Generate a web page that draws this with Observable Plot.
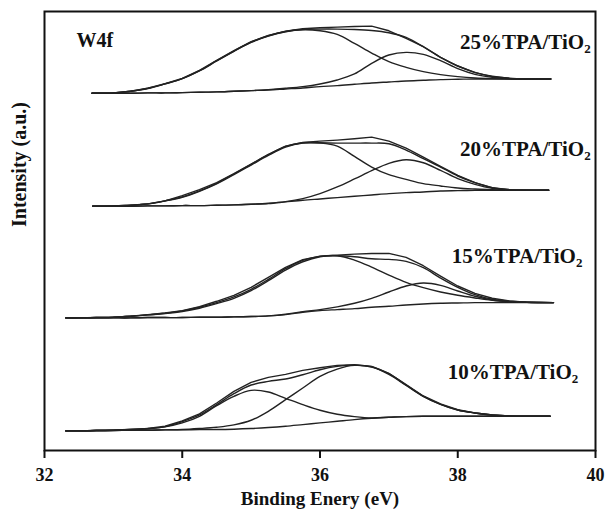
<!DOCTYPE html>
<html>
<head>
<meta charset="utf-8">
<script src="https://cdn.jsdelivr.net/npm/d3@7"></script>
<script src="https://cdn.jsdelivr.net/npm/@observablehq/plot@0.6"></script>
<style>
  html, body { margin: 0; padding: 0; background: #fff; }
  #chart svg { display: block; }
</style>
</head>
<body>
<div id="chart"></div>
<script>
// Binding energy grids (eV) for each sample
const e25 = [32.69,33.0,33.25,33.5,33.75,34.0,34.25,34.5,34.75,35.0,35.25,35.5,35.75,36.0,36.25,36.5,36.75,37.0,37.25,37.5,37.75,38.0,38.25,38.5,38.75,39.0,39.35];
const e20 = [32.70,33.0,33.25,33.5,33.75,34.0,34.25,34.5,34.75,35.0,35.25,35.5,35.75,36.0,36.25,36.5,36.75,37.0,37.25,37.5,37.75,38.0,38.25,38.5,38.75,39.0,39.32];
const e15 = [32.31,32.5,32.75,33.0,33.25,33.5,33.75,34.0,34.25,34.5,34.75,35.0,35.25,35.5,35.75,36.0,36.25,36.5,36.75,37.0,37.25,37.5,37.75,38.0,38.25,38.5,38.75,39.0,39.39];
const e10 = [32.31,32.5,32.75,33.0,33.25,33.5,33.75,34.0,34.25,34.5,34.75,35.0,35.25,35.5,35.75,36.0,36.25,36.5,36.75,37.0,37.25,37.5,37.75,38.0,38.25,38.5,38.75,39.0,39.34];

// Intensities (a.u., stacked as in the figure)
// 25%TPA/TiO2
const base25 = [1075,1075,1075,1076,1076,1077,1078,1079,1081,1083,1085,1088,1091,1095,1098,1102,1106,1109,1112,1114,1116,1117,1118,1118,1118,1118,1118];
const pk1_25 = [1075,1076,1081,1089,1103,1119,1142,1172,1201,1228,1247,1260,1266,1263,1252,1225,1196,1170,1153,1140,1131,1125,1121,1119,1118,1118,1118];
const pk2_25 = [1075,1075,1075,1076,1076,1077,1078,1079,1081,1083,1086,1090,1095,1103,1115,1133,1165,1190,1198,1192,1173,1149,1132,1123,1119,1118,1118];
const fit25  = [1075,1076,1081,1090,1103,1119,1143,1173,1202,1229,1248,1261,1267,1268,1268,1267,1264,1257,1243,1215,1183,1157,1138,1126,1120,1118,1118];
const raw25  = [1075,1076,1081,1090,1104,1120,1144,1174,1203,1230,1249,1262,1269,1272,1274,1276,1277,1263,1240,1215,1183,1157,1137,1125,1120,1119,1118];
// 20%TPA/TiO2
const base20 = [735,735,735,736,736,737,737,738,739,741,743,748,753,757,761,765,769,773,776,778,781,782,783,783,783,783,783];
const pk1_20 = [735,736,738,742,751,762,780,802,830,859,888,913,925,925,916,885,853,830,816,803,796,790,787,785,783,783,783];
const pk2_20 = [735,735,735,736,736,737,737,738,739,741,744,749,758,773,793,817,842,864,875,866,843,818,801,789,784,783,783];
const fit20  = [735,736,738,742,751,763,781,804,832,861,890,915,926,926,925,925,925,923,904,878,853,826,806,791,785,783,783];
const raw20  = [735,736,738,742,751,767,785,806,833,862,891,916,927,931,934,938,943,931,910,883,855,828,806,791,785,783,783];
// 15%TPA/TiO2
const base15 = [399,399,399,399,399,400,400,400,401,401,402,403,405,409,416,421,424,427,431,434,438,441,443,444,445,445,445,445,445];
const pk1_15 = [399,399,400,401,404,408,412,418,428,442,458,481,511,543,568,583,586,573,552,528,506,490,477,467,459,452,448,446,445];
const pk2_15 = [399,399,399,399,399,400,400,400,401,401,402,403,405,410,418,424,432,443,458,477,495,504,497,480,464,453,448,446,445];
const fit15  = [399,399,400,401,404,408,413,420,431,445,462,485,515,547,572,584,586,583,577,575,569,550,519,491,469,455,449,446,445];
const raw15  = [399,399,400,401,404,409,414,421,433,449,467,491,521,551,574,585,588,591,593,593,581,556,525,495,473,458,450,446,445];
// 10%TPA/TiO2
const base10 = [59,59,60,60,61,61,62,62,63,63,64,66,69,73,78,83,88,93,97,100,102,103,103,103,103,103,103,103,103];
const pk1_10 = [59,59,60,61,63,66,71,83,103,135,163,181,176,157,138,121,109,102,98,100,102,103,103,103,103,103,103,103,103];
const pk2_10 = [59,59,60,60,61,61,62,63,66,70,77,91,118,153,188,223,245,256,251,229,196,163,139,122,113,107,104,103,103];
const fit10  = [59,59,60,61,63,65,72,87,107,138,171,197,208,215,228,243,253,257,252,231,197,163,139,122,113,107,104,103,103];
const raw10  = [59,59,60,61,63,66,73,89,110,143,178,205,220,229,241,249,256,258,253,232,198,164,140,123,113,107,104,103,103];

// Labels
const sampleLabels = ["25%TPA/TiO2","20%TPA/TiO2","15%TPA/TiO2","10%TPA/TiO2"];
const labelX = [39.93, 39.93, 39.81, 39.75];
const labelY = [1228, 905, 584, 235];
const xTicks = [32, 34, 36, 38, 40];
const xTitle = "Binding Enery (eV)";
const yTitle = "Intensity (a.u.)";
const panelTag = "W4f";

const groups = [
  {g: "25", e: e25, smooth: [base25, pk1_25, pk2_25, fit25], raw: raw25},
  {g: "20", e: e20, smooth: [base20, pk1_20, pk2_20, fit20], raw: raw20},
  {g: "15", e: e15, smooth: [base15, pk1_15, pk2_15, fit15], raw: raw15},
  {g: "10", e: e10, smooth: [base10, pk1_10, pk2_10, fit10], raw: raw10}
];
const smoothRows = [];
const rawRows = [];
for (const grp of groups) {
  grp.smooth.forEach((arr, ci) => arr.forEach((v, i) => smoothRows.push({k: grp.g + "-" + ci, x: grp.e[i], y: v})));
  grp.raw.forEach((v, i) => rawRows.push({k: grp.g + "-raw", x: grp.e[i], y: v}));
}
const labelRows = sampleLabels.map((t, i) => ({t, x: labelX[i], y: labelY[i]}));

const ink = "#222";
const chart = Plot.plot({
  width: 605,
  height: 513,
  marginLeft: 44,
  marginRight: 10,
  marginTop: 11,
  marginBottom: 63,
  style: {fontFamily: "'Liberation Serif', 'Times New Roman', serif", fontWeight: "bold", color: "#111", background: "#fff"},
  x: {domain: [32, 40]},
  y: {domain: [0, 1321], axis: null},
  marks: [
    Plot.line(smoothRows, {x: "x", y: "y", z: "k", stroke: ink, strokeWidth: 1.4, curve: "catmull-rom"}),
    Plot.line(rawRows, {x: "x", y: "y", z: "k", stroke: ink, strokeWidth: 1.4, curve: "linear"}),
    Plot.frame({stroke: "#111", strokeWidth: 2}),
    Plot.axisX({ticks: xTicks, tickSize: 8, tickPadding: 10, tickFormat: d => String(d), fontSize: 18, fontWeight: "bold", strokeWidth: 2, label: null}),
    Plot.text([xTitle], {frameAnchor: "bottom", dy: 54, text: d => d, fontSize: 19, fontWeight: "bold", fill: "#111"}),
    Plot.text([yTitle], {frameAnchor: "left", dx: -25, dy: -4, rotate: -90, text: d => d, fontSize: 20, fontWeight: "bold", fill: "#111"}),
    Plot.text([panelTag], {x: 32.465, y: 1233, text: d => d, textAnchor: "start", fontSize: 20, fontWeight: "bold", fill: "#111"}),
    Plot.text(labelRows, {x: "x", y: "y", text: "t", textAnchor: "end", fontSize: 21, fontWeight: "bold", fill: "#111"})
  ]
});

// subscript the "2" of TiO2
d3.select(chart).selectAll("text").each(function() {
  const el = this;
  const s = el.textContent;
  if (/TiO2$/.test(s) && el.children.length === 0) {
    el.textContent = "";
    d3.select(el).append("tspan").text(s.slice(0, -1));
    d3.select(el).append("tspan").attr("font-size", "0.62em").attr("dy", "0.3em").text("2");
  }
});
document.getElementById("chart").appendChild(chart);
</script>
</body>
</html>
